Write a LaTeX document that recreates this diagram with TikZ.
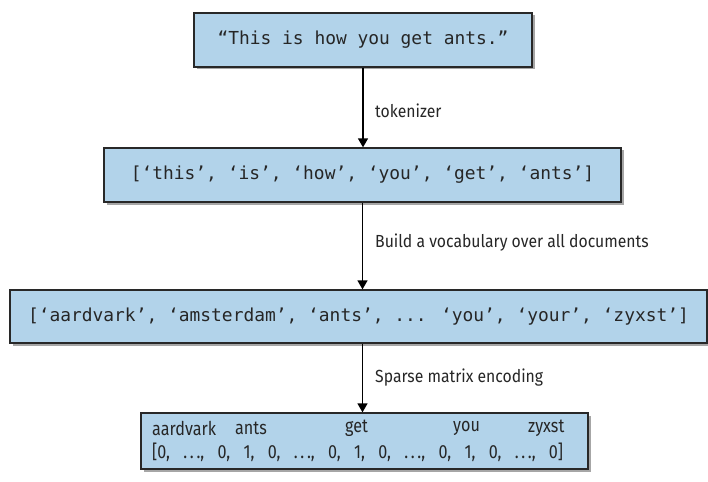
\documentclass[tikz,border=0pt]{standalone}
\usepackage{fontspec}
\newfontfamily\boxmono{DejaVu Sans Mono}
\newfontfamily\labfont[FakeStretch=0.9]{Fira Sans}
\newfontfamily\vecfont[FakeStretch=0.85]{Fira Sans}
\newcommand{\wdots}{\hbox to 17pt{.\hfil.\hfil.}}
\usetikzlibrary{arrows.meta,shadows}
\definecolor{boxblue}{RGB}{178,211,234}
\definecolor{boxline}{RGB}{40,40,40}
\tikzset{
  stepbox/.style={draw=boxline, line width=1.3pt, fill=boxblue, inner sep=0pt,
    drop shadow={shadow xshift=2.5pt, shadow yshift=-2.5pt, fill=black, opacity=0.35}},
  monotext/.style={font=\boxmono\fontsize{17.9}{21}\selectfont, text=black!85},
  labtext/.style={font=\labfont\fontsize{17.5}{20}\selectfont, text=black!85, anchor=west, inner sep=0pt},
  vectext/.style={font=\vecfont\fontsize{19}{22}\selectfont, text=black!85, anchor=west, inner sep=0pt},
  arr/.style={line width=1.4pt, -{Triangle[width=10pt,length=9pt]}}
}
\begin{document}
\begin{tikzpicture}[x=1pt,y=-1pt]
\useasboundingbox (0,0) rectangle (708,481);
\fill[white] (0,0) rectangle (708,481);
\node[stepbox, minimum width=338pt, minimum height=54pt] (b1) at (363,40) {};
\node[monotext] (t1) at (b1.center) {“This is how you get ants.”};
\node[stepbox, minimum width=517pt, minimum height=54pt] (b2) at (362.5,175) {};
\node[monotext] (t2) at (b2.center) {[‘this’, ‘is’, ‘how’, ‘you’, ‘get’, ‘ants’]};
\node[stepbox, minimum width=697pt, minimum height=53pt] (b3) at (358.5,316.5) {};
\node[monotext] (t3) at (b3.center) {[‘aardvark’, ‘amsterdam’, ‘ants’, ... ‘you’, ‘your’, ‘zyxst’]};
\node[stepbox, minimum width=447pt, minimum height=56pt] (b4) at (364.5,441) {};
\node[vectext] (w1) at (152,428) {aardvark};
\node[vectext] (w2) at (235,428) {ants};
\node[vectext] (w3) at (345,428) {get};
\node[vectext] (w4) at (453,428) {you};
\node[vectext] (w5) at (528,428) {zyxst};
\node[vectext] (v) at (152,452) {\hbox to 411pt{\spaceskip=3pt plus 1fil\relax [0, \wdots, 0, 1, 0, \wdots, 0, 1, 0, \wdots, 0, 1, 0, \wdots, 0]}};
\draw[arr] (b1.south) -- (b1.south |- b2.north);
\draw[arr] (b2.south) -- (b2.south |- b3.north);
\draw[arr] (b2.south |- b3.south) -- (b2.south |- b4.north);
\node[labtext] (l1) at (375,111) {tokenizer};
\node[labtext] (l2) at (375,243) {Build a vocabulary over all documents};
\node[labtext] (l3) at (375,378) {Sparse matrix encoding};
\end{tikzpicture}
\end{document}
